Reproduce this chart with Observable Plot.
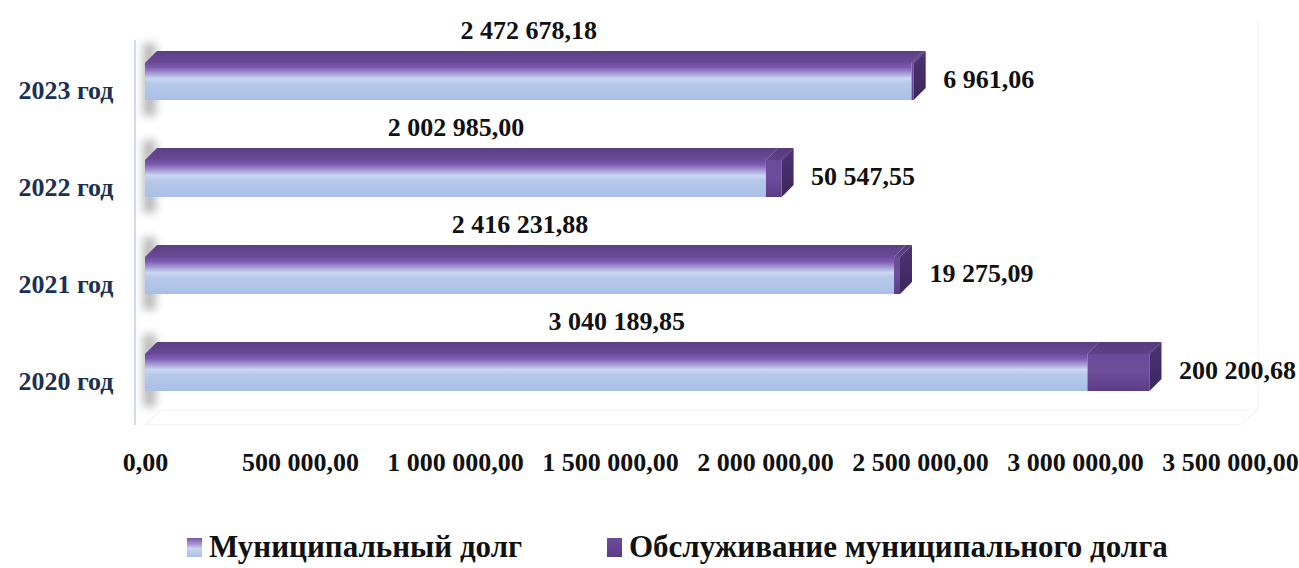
<!DOCTYPE html>
<html><head><meta charset="utf-8">
<script src="https://cdn.jsdelivr.net/npm/d3@7"></script>
<script src="https://cdn.jsdelivr.net/npm/@observablehq/plot@0.6"></script>
<style>
body{margin:0;background:#fff;}
#wrap{position:relative;width:1299px;height:568px;overflow:hidden;font-family:"Liberation Serif","Times New Roman",serif;}
#wrap svg, #wrap svg text{font-family:"Liberation Serif","Times New Roman",serif !important;}
.leg{position:absolute;top:530px;display:flex;align-items:center;font-weight:bold;font-size:31px;line-height:1.1;color:#111;white-space:nowrap;}
.sw{width:15px;height:19px;margin-right:7px;}
</style></head><body><div id="wrap"></div>
<script>
const years = ["2023 год", "2022 год", "2021 год", "2020 год"];
const debt = [2472678.18, 2002985.00, 2416231.88, 3040189.85];
const service = [6961.06, 50547.55, 19275.09, 200200.68];
const seriesNames = ["Муниципальный долг", "Обслуживание муниципального долга"];
const xTicks = [0, 500000, 1000000, 1500000, 2000000, 2500000, 3000000, 3500000];

const ru = d3.formatLocale({decimal: ",", thousands: " ", grouping: [3], currency: ["", ""]});
const fmt = ru.format(",.2f");

const table = years.map((year, i) => ({year, debt: debt[i], service: service[i], total: debt[i] + service[i]}));
const rows = years.flatMap((year, i) => [
  {year, series: seriesNames[0], value: debt[i]},
  {year, series: seriesNames[1], value: service[i]}
]);

const DEPTH = 12;

function shadowMark(index, scales, values, dims) {
  const g = d3.create("svg:g");
  const defs = g.append("defs");
  const f = defs.append("filter").attr("id", "blurSh").attr("x", "-100%").attr("y", "-50%").attr("width", "300%").attr("height", "200%");
  f.append("feGaussianBlur").attr("stdDeviation", 4.5);
  const bw = scales.y.bandwidth();
  table.forEach(d => {
    const yT = scales.y(d.year), yB = yT + bw, x0 = scales.x(0);
    g.append("rect").attr("x", x0 - 2).attr("y", yT - DEPTH - 8).attr("width", 13)
      .attr("height", bw + DEPTH + 24).attr("fill", "#777").attr("opacity", 0.5)
      .attr("filter", "url(#blurSh)");
  });
  return g.node();
}

function frameMark(index, scales, values, dims) {
  const g = d3.create("svg:g");
  const L = dims.marginLeft, B = dims.height - dims.marginBottom, R = dims.width - dims.marginRight;
  g.append("path").attr("d", `M${L},${B - 15}L${L + 15},${B - 30}L${R + 28},${B - 30}L${R + 10},${B - 15}Z`)
    .attr("fill", "none").attr("stroke", "#f3f3f3").attr("stroke-width", 1.2);
  g.append("line").attr("x1", R + 28).attr("x2", R + 28).attr("y1", dims.marginTop + 6).attr("y2", B - 30)
    .attr("stroke", "#f4f4f4").attr("stroke-width", 1.2);
  g.append("line").attr("x1", L - 10).attr("x2", L - 10).attr("y1", dims.marginTop + 26).attr("y2", B - 15)
    .attr("stroke", "#cddcf0").attr("stroke-width", 2);
  return g.node();
}

function facesMark(index, scales, values, dims) {
  const g = d3.create("svg:g");
  const bw = scales.y.bandwidth();
  const d = DEPTH;
  table.forEach(r => {
    const yT = scales.y(r.year), yB = yT + bw;
    const x0 = scales.x(0), xb = scales.x(r.debt), xe = scales.x(r.total);
    g.append("path").attr("d", `M${x0},${yT}L${x0 + d},${yT - d}L${xb + d},${yT - d}L${xb},${yT}Z`)
      .attr("fill", "url(#gTopBlue)");
    g.append("path").attr("d", `M${xb},${yT}L${xb + d},${yT - d}L${xe + d},${yT - d}L${xe},${yT}Z`)
      .attr("fill", "url(#gTopPurple)");
    g.append("path").attr("d", `M${xe},${yT}L${xe + d},${yT - d}L${xe + d},${yB - d}L${xe},${yB}Z`)
      .attr("fill", "url(#gSide)");
  });
  return g.node();
}

const FONT = "Liberation Serif";
const chart = Plot.plot({
  width: 1299, height: 520,
  marginLeft: 145, marginRight: 69, marginTop: 14, marginBottom: 80,
  style: {fontFamily: FONT, background: "transparent", overflow: "visible"},
  x: {domain: [0, 3500000], label: null},
  y: {domain: years, paddingInner: 0.62, paddingOuter: 0.5, label: null},
  color: {domain: seriesNames, range: ["url(#gBlue)", "url(#gPurple)"]},
  marks: [
    frameMark,
    shadowMark,
    Plot.barX(rows, Plot.stackX({x: "value", y: "year", fill: "series"})),
    facesMark,
    Plot.text(table, {x: d => d.debt / 2, y: "year", text: d => fmt(d.debt), dy: -51,
      fontSize: 26, fontWeight: "bold", fill: "#111", fontFamily: FONT}),
    Plot.text(table, {x: "total", y: "year", text: d => fmt(d.service), dx: 29, dy: -2, textAnchor: "start",
      fontSize: 26, fontWeight: "bold", fill: "#111", fontFamily: FONT}),
    Plot.axisX({ticks: xTicks, tickFormat: fmt, tickSize: 0, tickPadding: 12, fontSize: 26, fontWeight: "bold", fill: "#111", fontFamily: FONT, label: null}),
    Plot.axisY({tickSize: 0, tickPadding: 32, dy: 9, fontSize: 26, fontWeight: "bold", fill: "#1b3152", fontFamily: FONT, label: null})
  ]
});

const svg = d3.select(chart.tagName.toLowerCase() === "svg" ? chart : chart.querySelector("svg"));
svg.attr("font-family", FONT).style("font-family", FONT);
const defs = svg.insert("defs", ":first-child");
function vgrad(id, stops, horiz) {
  const gr = defs.append("linearGradient").attr("id", id).attr("x1", 0).attr("y1", 0)
    .attr("x2", horiz ? 1 : 0).attr("y2", horiz ? 0 : 1);
  stops.forEach(([o, c]) => gr.append("stop").attr("offset", o).attr("stop-color", c));
}
vgrad("gBlue", [[0, "#6f4b9f"], [0.12, "#7d5cb0"], [0.28, "#a69ad6"], [0.42, "#c8d6f0"], [0.55, "#b7c9ea"], [1, "#a9bfe6"]]);
vgrad("gPurple", [[0, "#6c4a9b"], [0.5, "#6e4d9c"], [1, "#5b3c86"]]);
vgrad("gTopBlue", [[0, "#5b3f84"], [1, "#6a4a96"]]);
vgrad("gTopPurple", [[0, "#553a7c"], [1, "#5f4289"]]);
vgrad("gSide", [[0, "#4d3374"], [1, "#3c275d"]]);

const wrap = document.getElementById("wrap");
wrap.appendChild(chart);

const legendItems = [
  {name: seriesNames[0], fill: "linear-gradient(#7a57ab 0%, #a99bd6 35%, #c6d5ef 55%, #a9bfe6 100%)", left: 187},
  {name: seriesNames[1], fill: "linear-gradient(#6e4d9c, #5a3c85)", left: 607}
];
legendItems.forEach(it => {
  const el = document.createElement("div");
  el.className = "leg";
  el.style.left = it.left + "px";
  const sw = document.createElement("span");
  sw.className = "sw";
  sw.style.background = it.fill;
  const tx = document.createElement("span");
  tx.textContent = it.name;
  el.appendChild(sw); el.appendChild(tx);
  wrap.appendChild(el);
});
</script>
</body></html>
